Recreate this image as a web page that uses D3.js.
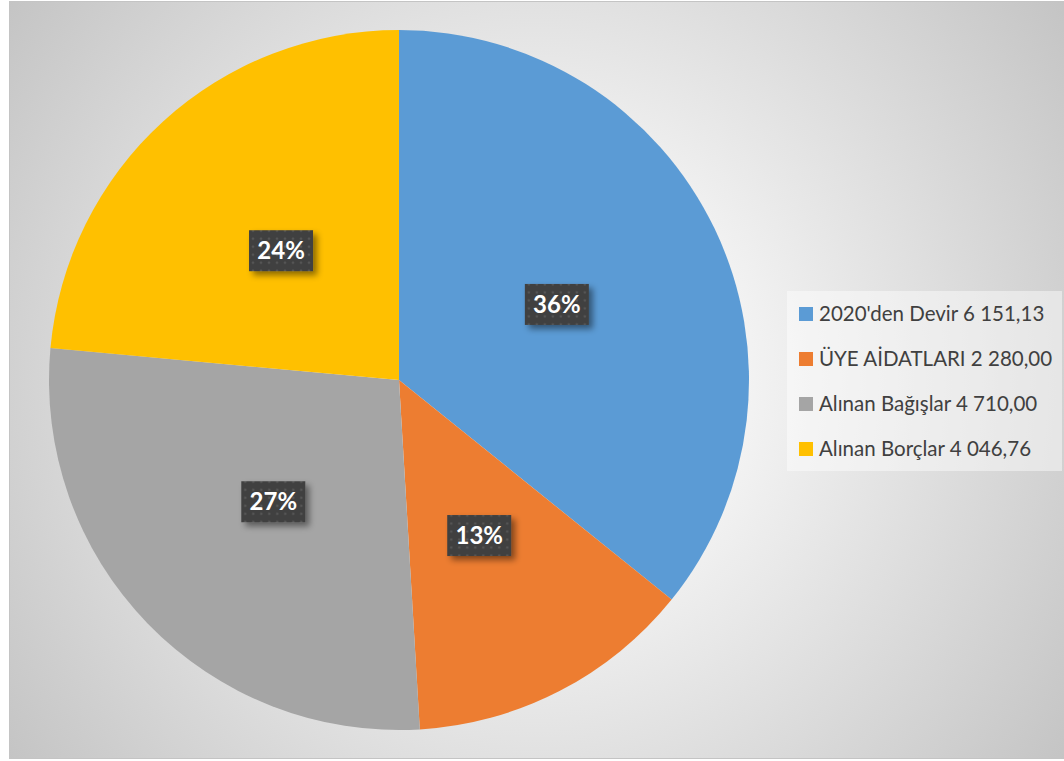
<!DOCTYPE html>
<html>
<head>
<meta charset="utf-8">
<script src="https://cdn.jsdelivr.net/npm/d3@7"></script>
<style>
html,body{margin:0;padding:0;background:#fff;}
svg{display:block;}
</style>
</head>
<body>
<svg id="chart" width="1064" height="761"></svg>
<script>
const categories = ["2020'den Devir", "ÜYE AİDATLARI", "Alınan Bağışlar", "Alınan Borçlar"];
const valueLabels = ["6 151,13", "2 280,00", "4 710,00", "4 046,76"];
const values = [6151.13, 2280.00, 4710.00, 4046.76];
const colors = ["#5B9BD5", "#ED7D31", "#A5A5A5", "#FFC000"];

const svg = d3.select("#chart");
const defs = svg.append("defs");

const grad = defs.append("radialGradient").attr("id","bg")
  .attr("gradientUnits","userSpaceOnUse")
  .attr("cx",537).attr("cy",380).attr("r",680);
grad.append("stop").attr("offset",0.14).attr("stop-color","#ffffff");
grad.append("stop").attr("offset",1).attr("stop-color","#c1c1c1");

const pat = defs.append("pattern").attr("id","dots")
  .attr("patternUnits","userSpaceOnUse").attr("width",8).attr("height",8);
pat.append("rect").attr("width",8).attr("height",8).attr("fill","#404040");
pat.append("circle").attr("cx",4).attr("cy",4).attr("r",1.3).attr("fill","#555555");

const sh = defs.append("filter").attr("id","shadow")
  .attr("x","-30%").attr("y","-30%").attr("width","170%").attr("height","170%");
sh.append("feDropShadow").attr("dx",4).attr("dy",4).attr("stdDeviation",3)
  .attr("flood-color","#000").attr("flood-opacity",0.45);

// chart area
svg.append("rect").attr("x",9.5).attr("y",1.5).attr("width",1060).attr("height",757)
  .attr("fill","url(#bg)").attr("stroke","#c4c4c4").attr("stroke-width",1);

// pie
const cx = 399, cy = 380, R = 350;
const pie = d3.pie().sort(null).value(d => d)(values);
const arc = d3.arc().innerRadius(0).outerRadius(R);
const g = svg.append("g").attr("transform",`translate(${cx},${cy})`);
g.selectAll("path.slice").data(pie).enter().append("path")
  .attr("class","slice")
  .attr("d",arc)
  .attr("fill",(d,i)=>colors[i]);

const total = d3.sum(values);
const fmt = v => Math.round(v/total*100) + "%";
const lbl = g.selectAll("g.lbl").data(pie).enter().append("g").attr("class","lbl")
  .attr("transform", d => { const c = arc.centroid(d); return `translate(${c[0]},${c[1]})`; });
lbl.append("rect").attr("x",-32).attr("y",-20.5).attr("width",64).attr("height",41)
  .attr("fill","url(#dots)").attr("filter","url(#shadow)");
lbl.append("text").attr("text-anchor","middle").attr("dy","0.36em")
  .attr("font-family","Lato, 'Open Sans', sans-serif").attr("font-weight","bold")
  .attr("font-size",24).attr("fill","#ffffff")
  .text(d => fmt(d.value));

// legend
const lg = svg.append("g");
lg.append("rect").attr("x",787).attr("y",291).attr("width",275).attr("height",180)
  .attr("fill","#ffffff").attr("fill-opacity",0.45);
const rowY = d3.scalePoint().domain(categories).range([314, 449]);
const items = lg.selectAll("g.item").data(categories).enter().append("g").attr("class","item")
  .attr("transform", d => `translate(799,${rowY(d)})`);
items.append("rect").attr("x",0).attr("y",-7).attr("width",14).attr("height",14)
  .attr("fill",(d,i)=>colors[i]);
items.append("text").attr("x",20).attr("dy","0.35em")
  .attr("font-family","Lato, 'Open Sans', sans-serif").attr("font-size",20.5)
  .attr("fill","#404040")
  .text((d,i)=> d + " " + valueLabels[i]);
</script>
</body>
</html>
